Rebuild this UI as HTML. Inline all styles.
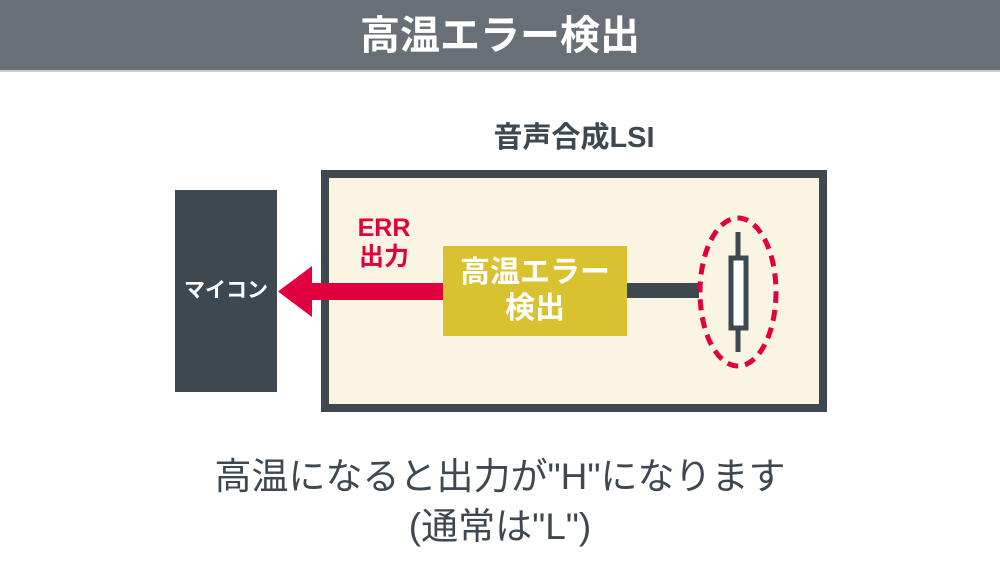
<!DOCTYPE html>
<html><head><meta charset="utf-8"><style>
body{margin:0;width:1000px;height:579px;background:#fff;position:relative;overflow:hidden;font-family:"Liberation Sans","Noto Sans CJK JP",sans-serif}
div{position:absolute;box-sizing:border-box}
.hd{left:0;top:0;width:1000px;height:72px;background:#686f77;color:#fff;font-size:40px;font-weight:bold;text-align:center;line-height:72px;border-bottom:2px solid #c9cdd1}
</style></head><body>
<div class="hd">高温エラー検出</div>
<div style="left:374px;top:120px;width:400px;text-align:center;font-size:29px;font-weight:bold;color:#3d4850;line-height:36px">音声合成LSI</div>
<div style="left:321px;top:170px;width:506px;height:242px;background:#faf5e3;border:8px solid #3d4850"></div>
<div style="left:175px;top:190px;width:102px;height:202px;background:#3d4850;color:#fff;font-size:21px;font-weight:bold;text-align:center;line-height:202px">マイコン</div>
<div style="left:443px;top:246px;width:184px;height:90px;background:#d9c22f;color:#fff;font-size:30px;font-weight:bold;text-align:center;line-height:36px;padding-top:9px">高温エラー<br>検出</div>
<div style="left:334px;top:214px;width:100px;text-align:center;color:#e0003f;font-size:25px;font-weight:bold;line-height:29px">ERR<br>出力</div>
<svg style="position:absolute;left:0;top:0" width="1000" height="579">
<rect x="310" y="283" width="133" height="17" fill="#e0003f"/>
<polygon points="278,291.5 312,266 312,317" fill="#e0003f"/>
<rect x="627" y="283" width="72" height="15" fill="#3d4850"/>
<line x1="738" y1="232" x2="738" y2="352" stroke="#3d4850" stroke-width="5"/>
<rect x="731" y="258" width="15" height="70" fill="#fff" stroke="#3d4850" stroke-width="5"/>
<ellipse cx="738" cy="292" rx="38" ry="74" fill="none" stroke="#e0003f" stroke-width="5" stroke-dasharray="11 7"/>
</svg>
<div style="left:0;top:452px;width:1000px;text-align:center;font-size:37px;color:#3d4850;line-height:50px">高温になると出力が"H"になります<br>(通常は"L")</div>
</body></html>
